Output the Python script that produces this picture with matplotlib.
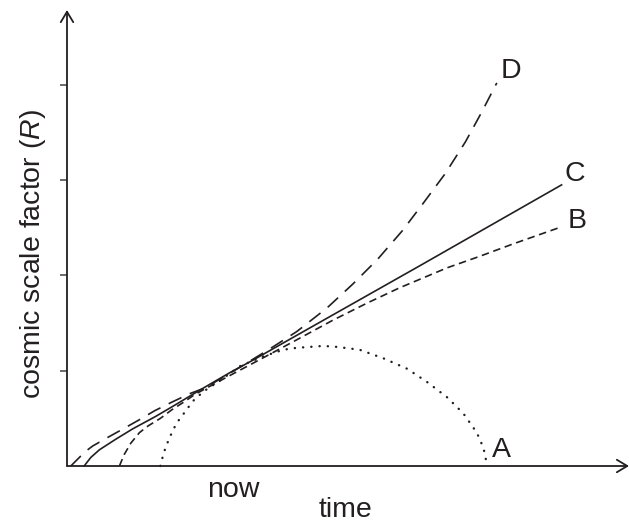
import matplotlib.pyplot as plt

plt.rcParams['font.family'] = ['Liberation Sans', 'DejaVu Sans']
plt.rcParams['mathtext.fontset'] = 'custom'
plt.rcParams['mathtext.rm'] = 'Liberation Sans'
plt.rcParams['mathtext.it'] = 'Liberation Sans:italic'

# curves (time, R)
a_t = [0.98, 1.01, 1.04, 1.10, 1.15, 1.24, 1.32, 1.43, 1.61, 1.82, 2.06, 2.27, 2.41,
       2.55, 2.69, 2.83, 3.07, 3.32, 3.57, 3.78, 3.99, 4.16, 4.30, 4.37, 4.41]
a_r = [0.00, 0.12, 0.21, 0.35, 0.45, 0.57, 0.68, 0.78, 0.90, 1.05, 1.15, 1.22, 1.24,
       1.25, 1.26, 1.25, 1.22, 1.13, 1.02, 0.88, 0.72, 0.55, 0.35, 0.19, 0.00]

b_t = [0.55, 0.60, 0.67, 0.76, 0.85, 0.98, 1.10, 1.24, 1.34, 1.45, 1.71, 2.03, 2.44,
       2.79, 3.15, 3.49, 3.99, 4.33, 4.68, 5.19]
b_r = [0.00, 0.12, 0.24, 0.35, 0.42, 0.50, 0.59, 0.68, 0.75, 0.81, 0.95, 1.12, 1.34,
       1.53, 1.71, 1.87, 2.08, 2.20, 2.33, 2.51]

c_t = [0.18, 0.25, 0.34, 0.51, 0.69, 0.93, 1.10, 1.40, 1.71, 1.95, 2.55, 3.70, 5.19]
c_r = [0.00, 0.09, 0.17, 0.28, 0.39, 0.52, 0.62, 0.80, 0.98, 1.11, 1.45, 2.10, 2.95]

d_t = [0.04, 0.10, 0.19, 0.27, 0.41, 0.59, 0.75, 0.92, 1.10, 1.29, 1.45, 1.82, 2.13,
       2.41, 2.73, 3.00, 3.26, 3.52, 3.74, 3.97, 4.18, 4.35, 4.51]
d_r = [0.00, 0.06, 0.15, 0.21, 0.29, 0.39, 0.48, 0.58, 0.67, 0.76, 0.82, 1.04, 1.23,
       1.41, 1.66, 1.91, 2.17, 2.47, 2.76, 3.07, 3.40, 3.71, 4.02]

curve_names = ['A', 'B', 'C', 'D']
name_pos = [(4.56, 0.17), (5.35, 2.57), (5.33, 3.06), (4.66, 4.14)]
r_ticks = [1, 2, 3, 4]

ink = '#231f20'

fig = plt.figure(figsize=(6.29, 5.25), dpi=100)
ax = fig.add_axes([67 / 629, 59 / 525, 562 / 629, 456 / 525])
ax.set_xlim(0, 562 / 95.3)
ax.set_ylim(0, 456 / 95.3)
for s in ax.spines.values():
    s.set_visible(False)

ax.plot(a_t, a_r, color=ink, lw=1.7, linestyle=(0, (0.1, 3.4)),
        dash_capstyle='round', clip_on=False)
ax.plot(b_t, b_r, color=ink, lw=1.2, linestyle=(0, (4.5, 2.8)), clip_on=False)
ax.plot(c_t, c_r, color=ink, lw=1.2, clip_on=False)
ax.plot(d_t, d_r, color=ink, lw=1.2, linestyle=(0, (8.5, 5.5)), clip_on=False)

# axes with open arrow heads
arrow = dict(arrowstyle='->,head_length=0.5,head_width=0.3', lw=1.3, color=ink,
             mutation_scale=15, shrinkA=0, shrinkB=0)
ax.annotate('', xy=(0, 1), xytext=(0, 0), xycoords='axes fraction', arrowprops=arrow)
ax.annotate('', xy=(1, 0), xytext=(0, 0), xycoords='axes fraction', arrowprops=arrow)

ax.set_xticks([])
ax.set_yticks(r_ticks)
ax.set_yticklabels([])
ax.tick_params(axis='y', direction='out', length=5, width=1.1, color='#444444')

for name, (x, y) in zip(curve_names, name_pos):
    ax.text(x, y, name, fontsize=20.5, color=ink, ha='center', va='center')

ax.text(1.75, -0.325, 'now', fontsize=20.5, color=ink, ha='center', va='baseline',
        clip_on=False)
ax.text(2.92, -0.535, 'time', fontsize=20.5, color=ink, ha='center', va='baseline',
        clip_on=False)
ax.text(-0.283, 2.22, r'cosmic scale factor ($\it{R}$)', fontsize=20.5, color=ink,
        rotation=90, rotation_mode='anchor', ha='center', va='baseline', clip_on=False)

fig.savefig('out.png', dpi=100)
